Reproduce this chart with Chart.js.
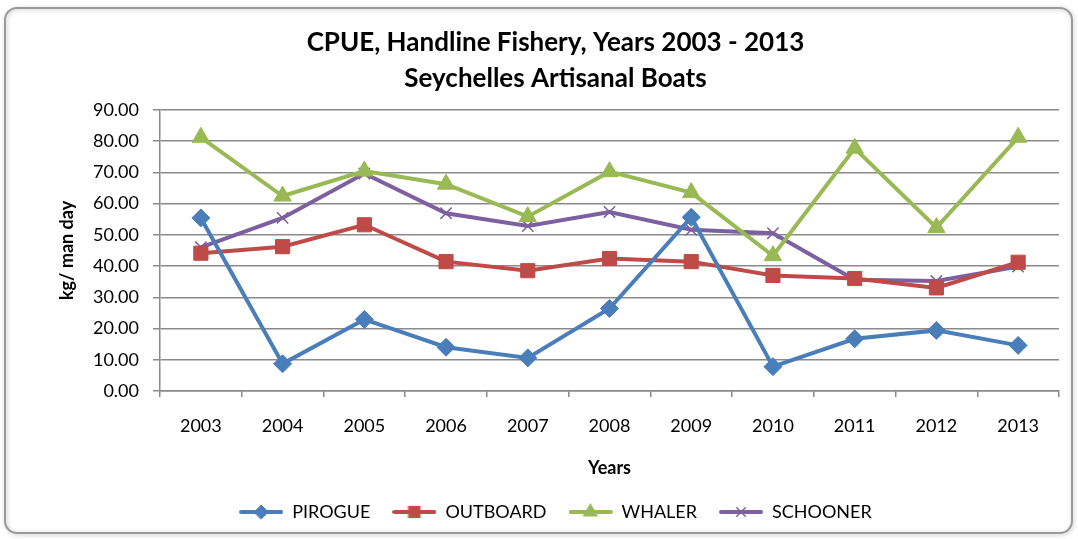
<!DOCTYPE html>
<html>
<head>
<meta charset="utf-8">
<script src="https://cdn.jsdelivr.net/npm/chart.js@4/dist/chart.umd.min.js"></script>
<style>
  html, body { margin: 0; padding: 0; background: #ffffff; }
  #wrap { width: 1078px; height: 539px; position: relative; }
</style>
</head>
<body>
<div id="wrap"><canvas id="chart" width="1078" height="539"></canvas></div>
<script>
const years = ["2003", "2004", "2005", "2006", "2007", "2008", "2009", "2010", "2011", "2012", "2013"];
const pirogue = [55.4, 8.7, 22.9, 14.0, 10.6, 26.4, 55.6, 7.8, 16.7, 19.4, 14.6];
const outboard = [44.1, 46.2, 53.2, 41.4, 38.5, 42.4, 41.4, 37.0, 36.0, 33.0, 41.2];
const whaler = [81.2, 62.4, 70.4, 66.2, 55.8, 70.2, 63.5, 43.3, 77.7, 52.3, 81.2];
const schooner = [46.0, 55.4, 69.6, 56.9, 52.8, 57.3, 51.6, 50.5, 35.6, 35.2, 39.8];

const fontFam = "Lato, 'Open Sans', sans-serif";
const gridColor = "#8a8a8a";

const series = [
    { label: "PIROGUE", data: pirogue, color: "#4a7ebb", style: "rectRot", radius: 9, legendRadius: 7 },
    { label: "OUTBOARD", data: outboard, color: "#be4b48", style: "rect", radius: 10, legendRadius: 8 },
    { label: "WHALER", data: whaler, color: "#98b954", style: "triangle", radius: 10, legendRadius: 8 },
    { label: "SCHOONER", data: schooner, color: "#7d60a0", style: "crossRot", radius: 8, legendRadius: 6 }
];

// legend icon: line with marker in the middle
function makeIcon(s) {
    let c = document.createElement("canvas");
    c.width = 44;
    c.height = 20;
    let ctx = c.getContext("2d");
    ctx.strokeStyle = s.color;
    ctx.lineWidth = 4;
    ctx.lineCap = "round";
    ctx.beginPath();
    ctx.moveTo(2, 10);
    ctx.lineTo(42, 10);
    ctx.stroke();
    ctx.fillStyle = s.color;
    ctx.lineWidth = s.style === "crossRot" ? 1.5 : 1;
    Chart.helpers.drawPoint(ctx, { pointStyle: s.style, radius: s.legendRadius, rotation: 0, borderWidth: ctx.lineWidth }, 22, 10);
    return c;
}

const icons = series.map(makeIcon);

const frame = {
    id: "frame",
    beforeDraw(chart) {
        let ctx = chart.ctx;
        ctx.save();
        ctx.shadowColor = "rgba(0,0,0,0.25)";
        ctx.shadowBlur = 4;
        ctx.shadowOffsetX = 1;
        ctx.shadowOffsetY = 1;
        ctx.strokeStyle = "#9a9a9a";
        ctx.lineWidth = 2;
        ctx.beginPath();
        ctx.roundRect(5, 8, 1067, 525, 12);
        ctx.stroke();
        ctx.restore();
    }
};

new Chart(document.getElementById("chart"), {
    type: "line",
    data: {
        labels: years,
        datasets: series.map(s => ({
            label: s.label,
            data: s.data,
            borderColor: s.color,
            backgroundColor: s.color,
            borderWidth: 4,
            pointStyle: s.style,
            pointRadius: s.radius,
            pointHoverRadius: s.radius,
            pointBorderWidth: s.style === "crossRot" ? 1.5 : 1,
            pointBorderColor: s.color,
            pointBackgroundColor: s.color,
            tension: 0
        }))
    },
    options: {
        responsive: false,
        animation: false,
        devicePixelRatio: 1,
        layout: { padding: { left: 52, right: 19, top: 24, bottom: 8 } },
        plugins: {
            title: {
                display: true,
                text: ["CPUE, Handline Fishery, Years 2003 - 2013", "Seychelles Artisanal Boats"],
                color: "#000",
                font: { family: fontFam, size: 26, weight: "bold", lineHeight: 1.4 },
                padding: { top: 0, bottom: 13 }
            },
            legend: {
                position: "bottom",
                labels: {
                    color: "#000",
                    font: { family: fontFam, size: 18 },
                    usePointStyle: true,
                    pointStyleWidth: 44,
                    padding: 22,
                    generateLabels(chart) {
                        return series.map((s, i) => ({
                            text: s.label,
                            pointStyle: icons[i],
                            fillStyle: s.color,
                            strokeStyle: s.color,
                            lineWidth: 0,
                            hidden: false,
                            datasetIndex: i
                        }));
                    }
                }
            },
            tooltip: { enabled: false }
        },
        scales: {
            x: {
                offset: true,
                grid: {
                    offset: true,
                    drawOnChartArea: false,
                    drawTicks: true,
                    tickLength: 6,
                    color: gridColor,
                    lineWidth: 1.5
                },
                border: { color: gridColor, width: 1.5 },
                ticks: { color: "#000", font: { family: fontFam, size: 18 }, padding: 18, maxRotation: 0 },
                title: {
                    display: true,
                    text: "Years",
                    color: "#000",
                    font: { family: fontFam, size: 18, weight: "bold" },
                    padding: { top: 4, bottom: 2 }
                },
                afterFit(scale) { scale.height = 90; }
            },
            y: {
                min: 0,
                max: 90,
                grid: {
                    color: gridColor,
                    lineWidth: 1.5,
                    drawTicks: true,
                    tickLength: 7
                },
                border: { color: gridColor, width: 1.5 },
                ticks: {
                    stepSize: 10,
                    color: "#000",
                    font: { family: fontFam, size: 18 },
                    padding: 14,
                    callback: v => v.toFixed(2)
                },
                title: {
                    display: true,
                    text: "kg/ man day",
                    color: "#000",
                    font: { family: fontFam, size: 18, weight: "bold" },
                    padding: { top: 4, bottom: 4 }
                },
                afterFit(scale) { scale.width = 108; }
            }
        }
    },
    plugins: [frame]
});
</script>
</body>
</html>
